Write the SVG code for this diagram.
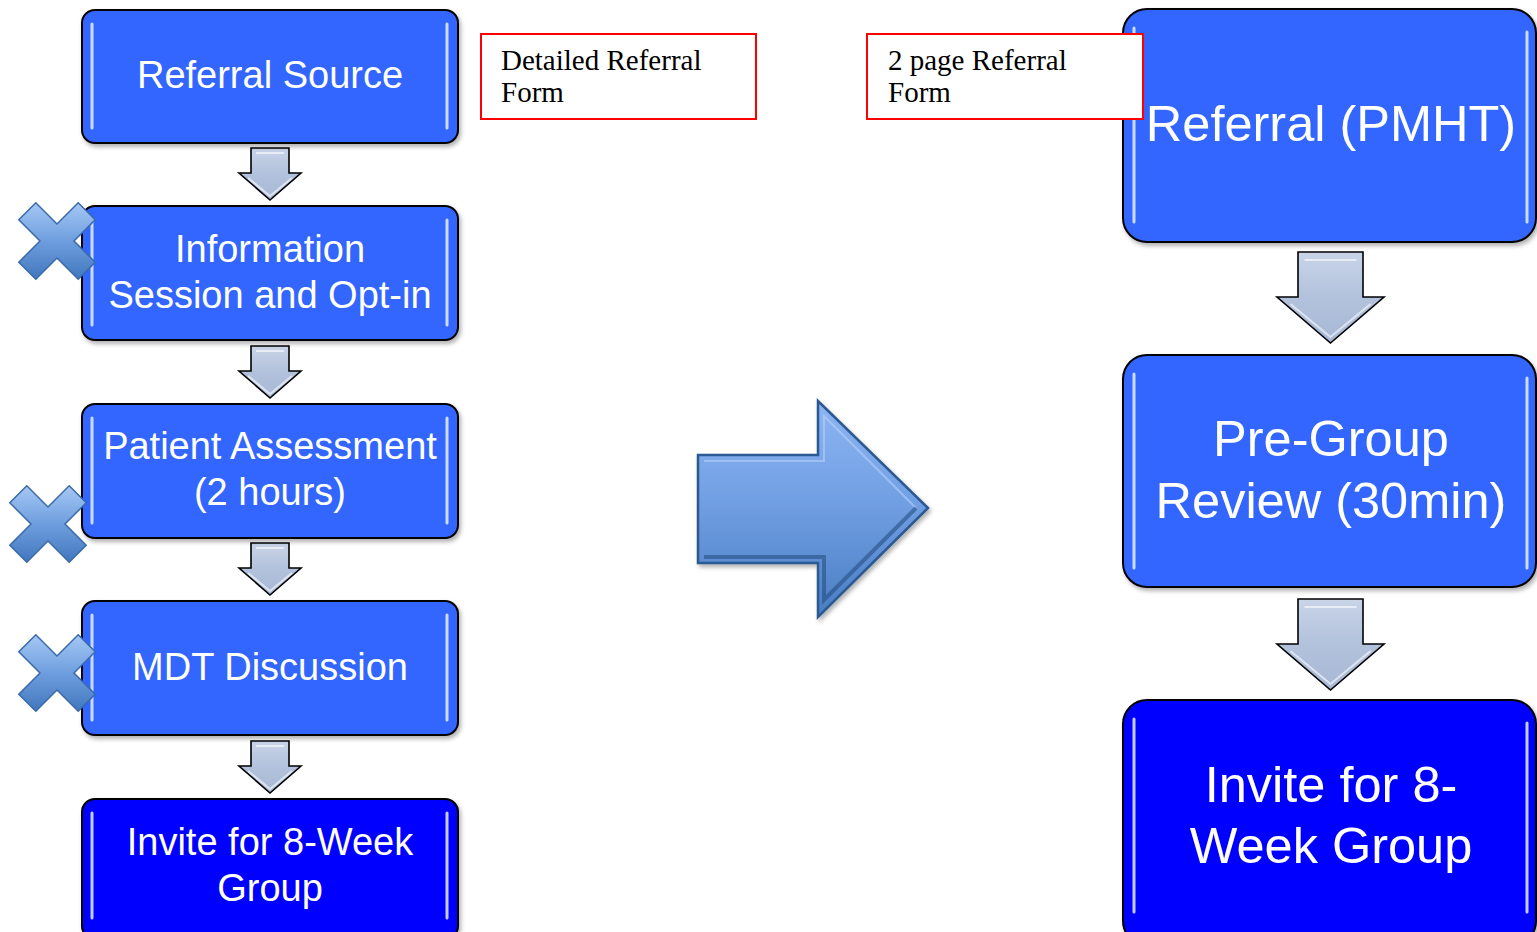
<svg xmlns="http://www.w3.org/2000/svg" width="1537" height="932" viewBox="0 0 1537 932">
<style>
.box{stroke:#000;stroke-width:2;filter:url(#sh)}
.lt{fill:#3366FF}
.dk{fill:#0000FF}
.hl{stroke:#E6EEFF;stroke-width:3;stroke-linecap:round;opacity:0.85;fill:none}
.t{font-family:"Liberation Sans",Arial,sans-serif;fill:#fff;text-anchor:middle}
.ts{font-size:38px}
.tb{font-size:50.5px}
.lbl{fill:#fff;stroke:#FF0000;stroke-width:2}
.lt2{font-family:"Liberation Serif","Times New Roman",serif;font-size:29px;fill:#000}
.dn{fill:url(#ag);stroke:#000;stroke-width:1.6;stroke-linejoin:miter}
.dnh{fill:none;stroke:#fff;stroke-width:2;opacity:0.6}
.xm{fill:url(#xg);stroke:#3A6AA8;stroke-width:1.5}
</style>
<defs>
<filter id="sh" x="-5%" y="-5%" width="115%" height="120%">
<feDropShadow dx="2" dy="3" stdDeviation="2" flood-color="#000" flood-opacity="0.3"/>
</filter>
<linearGradient id="ag" x1="0" y1="0" x2="0" y2="1">
<stop offset="0" stop-color="#C9D4E8"/>
<stop offset="0.5" stop-color="#B2C2DC"/>
<stop offset="1" stop-color="#A7B8D6"/>
</linearGradient>
<linearGradient id="xg" x1="0" y1="0" x2="0" y2="1">
<stop offset="0" stop-color="#A6C8F5"/>
<stop offset="0.5" stop-color="#6E9EDE"/>
<stop offset="1" stop-color="#4277BE"/>
</linearGradient>
<linearGradient id="bg" x1="0" y1="0" x2="0" y2="1">
<stop offset="0" stop-color="#8DB5F2"/>
<stop offset="0.45" stop-color="#72A0E4"/>
<stop offset="1" stop-color="#4A7DC3"/>
</linearGradient>
<path id="xp" d="M21.2,-38.2 L38.2,-21.2 L17,0 L38.2,21.2 L21.2,38.2 L0,17 L-21.2,38.2 L-38.2,21.2 L-17,0 L-38.2,-21.2 L-21.2,-38.2 L0,-17 Z"/>
<g id="sa">
<polygon class="dn" points="-19,0 19,0 19,25 31,25 0,52 -31,25 -19,25"/>
<polyline class="dnh" points="-14,5 14,5"/>
<polyline class="dnh" points="-22,30 0,48 22,30" opacity="0.35"/>
</g>
<g id="la">
<polygon class="dn" points="-32.5,0 32.5,0 32.5,45 53.5,45 0,91 -53.5,45 -32.5,45"/>
<polyline class="dnh" points="-26,8 26,8"/>
<polyline class="dnh" points="-40,52 0,85 40,52" opacity="0.35"/>
</g>
</defs>

<rect width="1537" height="932" fill="#fff"/>

<g id="connectors">
<use href="#sa" x="270" y="148"/>
<use href="#sa" x="270" y="346"/>
<use href="#sa" x="270" y="543"/>
<use href="#sa" x="270" y="741"/>
<use href="#la" x="1330.5" y="252"/>
<use href="#la" x="1330.5" y="599"/>
<g id="big-arrow" filter="url(#sh)">
<path d="M698,455 L818,455 L818,401 L928,508 L818,617 L818,563 L698,563 Z" fill="url(#bg)" stroke="#2A5A91" stroke-width="2.5" stroke-linejoin="miter"/>
<path d="M704,461 L824,461 L824,416 L916,508" fill="none" stroke="#B5D0F7" stroke-width="2" opacity="0.6"/>
<path d="M916,508 L824,600 L824,557 L704,557" fill="none" stroke="#1F4A7A" stroke-width="4" opacity="0.55"/>
</g>
</g>

<g id="node-referral-source">
<rect class="box lt" x="82" y="10" width="376" height="133" rx="13"/>
<line class="hl" x1="92" y1="24" x2="92" y2="128"/>
<line class="hl" x1="447" y1="24" x2="447" y2="128"/>
<text class="t ts" x="270" y="88">Referral Source</text>
</g>

<g id="node-information-session">
<rect class="box lt" x="82" y="206" width="376" height="134" rx="13"/>
<line class="hl" x1="92" y1="220" x2="92" y2="325"/>
<line class="hl" x1="447" y1="220" x2="447" y2="325"/>
<text class="t ts" x="270" y="262">Information</text>
<text class="t ts" x="270" y="308">Session and Opt-in</text>
</g>

<g id="node-patient-assessment">
<rect class="box lt" x="82" y="404" width="376" height="134" rx="13"/>
<line class="hl" x1="92" y1="418" x2="92" y2="523"/>
<line class="hl" x1="447" y1="418" x2="447" y2="523"/>
<text class="t ts" x="270" y="459">Patient Assessment</text>
<text class="t ts" x="270" y="505">(2 hours)</text>
</g>

<g id="node-mdt-discussion">
<rect class="box lt" x="82" y="601" width="376" height="134" rx="13"/>
<line class="hl" x1="92" y1="615" x2="92" y2="720"/>
<line class="hl" x1="447" y1="615" x2="447" y2="720"/>
<text class="t ts" x="270" y="680">MDT Discussion</text>
</g>

<g id="node-invite-left">
<rect class="box dk" x="82" y="799" width="376" height="140" rx="13"/>
<line class="hl" x1="92" y1="813" x2="92" y2="918"/>
<line class="hl" x1="447" y1="813" x2="447" y2="918"/>
<text class="t ts" x="270" y="855">Invite for 8-Week</text>
<text class="t ts" x="270" y="901">Group</text>
</g>

<g id="node-x1"><use href="#xp" class="xm" x="57" y="241"/></g>
<g id="node-x2"><use href="#xp" class="xm" x="48" y="524"/></g>
<g id="node-x3"><use href="#xp" class="xm" x="57" y="673"/></g>

<g id="node-referral-pmht">
<rect class="box lt" x="1123" y="9" width="413" height="233" rx="24"/>
<line class="hl" x1="1134" y1="28" x2="1134" y2="222"/>
<line class="hl" x1="1527" y1="32" x2="1527" y2="222"/>
<text class="t tb" x="1331" y="141">Referral (PMHT)</text>
</g>

<g id="node-pre-group">
<rect class="box lt" x="1123" y="355" width="413" height="232" rx="24"/>
<line class="hl" x1="1134" y1="374" x2="1134" y2="568"/>
<line class="hl" x1="1527" y1="378" x2="1527" y2="568"/>
<text class="t tb" x="1331" y="456">Pre-Group</text>
<text class="t tb" x="1331" y="518">Review (30min)</text>
</g>

<g id="node-invite-right">
<rect class="box dk" x="1123" y="700" width="413" height="245" rx="24"/>
<line class="hl" x1="1134" y1="719" x2="1134" y2="912"/>
<line class="hl" x1="1527" y1="723" x2="1527" y2="912"/>
<text class="t tb" x="1331" y="802">Invite for 8-</text>
<text class="t tb" x="1331" y="863">Week Group</text>
</g>

<g id="node-detailed-form">
<rect class="lbl" x="481" y="34" width="275" height="85"/>
<text class="lt2" x="501" y="70">Detailed Referral</text>
<text class="lt2" x="501" y="102">Form</text>
</g>

<g id="node-two-page-form">
<rect class="lbl" x="867" y="34" width="276" height="85"/>
<text class="lt2" x="888" y="70">2 page Referral</text>
<text class="lt2" x="888" y="102">Form</text>
</g>
</svg>
